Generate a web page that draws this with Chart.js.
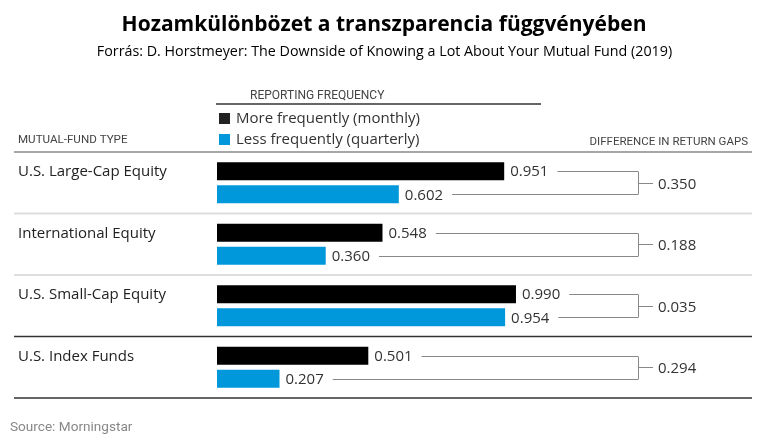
<!DOCTYPE html>
<html>
<head>
<meta charset="utf-8">
<script src="https://cdn.jsdelivr.net/npm/chart.js@4/dist/chart.umd.min.js"></script>
<style>
html,body{margin:0;padding:0;background:#fff;}
#wrap{width:767px;height:446px;position:relative;}
</style>
</head>
<body>
<div id="wrap"><canvas id="c" width="767" height="446"></canvas></div>
<script>
// ---- data ----
const categories = ["U.S. Large-Cap Equity", "International Equity", "U.S. Small-Cap Equity", "U.S. Index Funds"];
const monthly = [0.951, 0.548, 0.990, 0.501];
const quarterly = [0.602, 0.360, 0.954, 0.207];
const gaps = [0.350, 0.188, 0.035, 0.294];
const seriesNames = ["More frequently (monthly)", "Less frequently (quarterly)"];
const titleText = "Hozamkülönbözet a transzparencia függvényében";
const subtitleText = "Forrás: D. Horstmeyer: The Downside of Knowing a Lot About Your Mutual Fund (2019)";
const sourceText = "Source: Morningstar";

const BLACK = "#000000";
const BLUE = "#0098DA";
const NARROW = "'Roboto', sans-serif";
const BODY = "'Open Sans', 'Noto Sans', sans-serif";

const decor = {
  id: 'decor',
  afterDatasetsDraw(chart) {
    const ctx = chart.ctx;
    const ca = chart.chartArea;
    const x = chart.scales.x, y = chart.scales.y;
    ctx.save();
    // title
    ctx.fillStyle = "#000";
    ctx.textAlign = "center";
    ctx.textBaseline = "middle";
    ctx.font = "bold 21px 'Open Sans', sans-serif";
    ctx.fillText(titleText, 384, 25);
    ctx.font = "14.3px 'Open Sans', sans-serif";
    ctx.fillText(subtitleText, 384.5, 52);

    // header
    ctx.fillStyle = "#444";
    ctx.textAlign = "left";
    ctx.font = "12px " + NARROW;
    ctx.fillText("REPORTING FREQUENCY", 250, 96);
    ctx.font = "11.6px " + NARROW;
    ctx.fillText("MUTUAL-FUND TYPE", 18, 140);
    ctx.textAlign = "right";
    ctx.font = "11.5px " + NARROW;
    ctx.fillText("DIFFERENCE IN RETURN GAPS", 748, 142);
    ctx.strokeStyle = "#333";
    ctx.lineWidth = 1.5;
    ctx.beginPath(); ctx.moveTo(216, 104); ctx.lineTo(541, 104); ctx.stroke();

    // legend
    ctx.textAlign = "left";
    ctx.font = "15px " + BODY;
    seriesNames.forEach((n, i) => {
      const cy = 118 + i * 21;
      ctx.fillStyle = i === 0 ? "#222" : BLUE;
      ctx.fillRect(219, cy - 5, 11, 11);
      ctx.fillStyle = "#333";
      ctx.fillText(n, 236, cy + 1);
    });

    // separators
    const L = 14, R = 752;
    const line = (yy, col, w) => { ctx.strokeStyle = col; ctx.lineWidth = w; ctx.beginPath(); ctx.moveTo(L, yy); ctx.lineTo(R, yy); ctx.stroke(); };
    line(ca.top, "#888", 1.5);
    for (let i = 0; i < categories.length - 1; i++) {
      const yy = (y.getPixelForValue(i) + y.getPixelForValue(i + 1)) / 2;
      if (i === categories.length - 2) line(yy, "#333", 1.5);
      else line(yy, "#ddd", 2);
    }
    line(ca.bottom, "#333", 1.5);

    // per category labels & brackets
    const m0 = chart.getDatasetMeta(0), m1 = chart.getDatasetMeta(1);
    const BX = 638;
    categories.forEach((cat, i) => {
      const b0 = m0.data[i], b1 = m1.data[i];
      ctx.fillStyle = "#222";
      ctx.textAlign = "left";
      ctx.font = "15px " + BODY;
      ctx.fillText(cat, 18, b0.y + 1);
      ctx.fillStyle = "#333";
      ctx.strokeStyle = "#888";
      ctx.lineWidth = 1;
      [[monthly[i], b0], [quarterly[i], b1]].forEach(([v, b]) => {
        const t = v.toFixed(3);
        const tx = x.getPixelForValue(v) + 6;
        ctx.fillText(t, tx, b.y + 1);
        const w = ctx.measureText(t).width;
        ctx.beginPath(); ctx.moveTo(tx + w + 9, Math.round(b.y) + 0.5); ctx.lineTo(BX, Math.round(b.y) + 0.5); ctx.stroke();
      });
      ctx.beginPath(); ctx.moveTo(BX + 0.5, Math.round(b0.y) + 0.5); ctx.lineTo(BX + 0.5, Math.round(b1.y) + 0.5); ctx.stroke();
      const my = Math.round((b0.y + b1.y) / 2) + 0.5;
      ctx.beginPath(); ctx.moveTo(BX, my); ctx.lineTo(BX + 15, my); ctx.stroke();
      ctx.fillText(gaps[i].toFixed(3), BX + 20, my + 1);
    });

    // source
    ctx.fillStyle = "#888";
    ctx.font = "13.6px " + NARROW;
    ctx.fillText(sourceText, 10, 428);
    ctx.restore();
  }
};

new Chart(document.getElementById('c'), {
  type: 'bar',
  data: {
    labels: categories,
    datasets: [
      { label: seriesNames[0], data: monthly, backgroundColor: BLACK },
      { label: seriesNames[1], data: quarterly, backgroundColor: BLUE }
    ]
  },
  options: {
    indexAxis: 'y',
    responsive: false,
    devicePixelRatio: 1,
    animation: false,
    layout: { padding: { left: 217, right: 248, top: 152, bottom: 48 } },
    categoryPercentage: 0.75,
    barPercentage: 0.78,
    scales: {
      x: { display: false, min: 0, max: 1 },
      y: { display: false }
    },
    plugins: { legend: { display: false }, tooltip: { enabled: false }, title: { display: false } }
  },
  plugins: [decor]
});
</script>
</body>
</html>
